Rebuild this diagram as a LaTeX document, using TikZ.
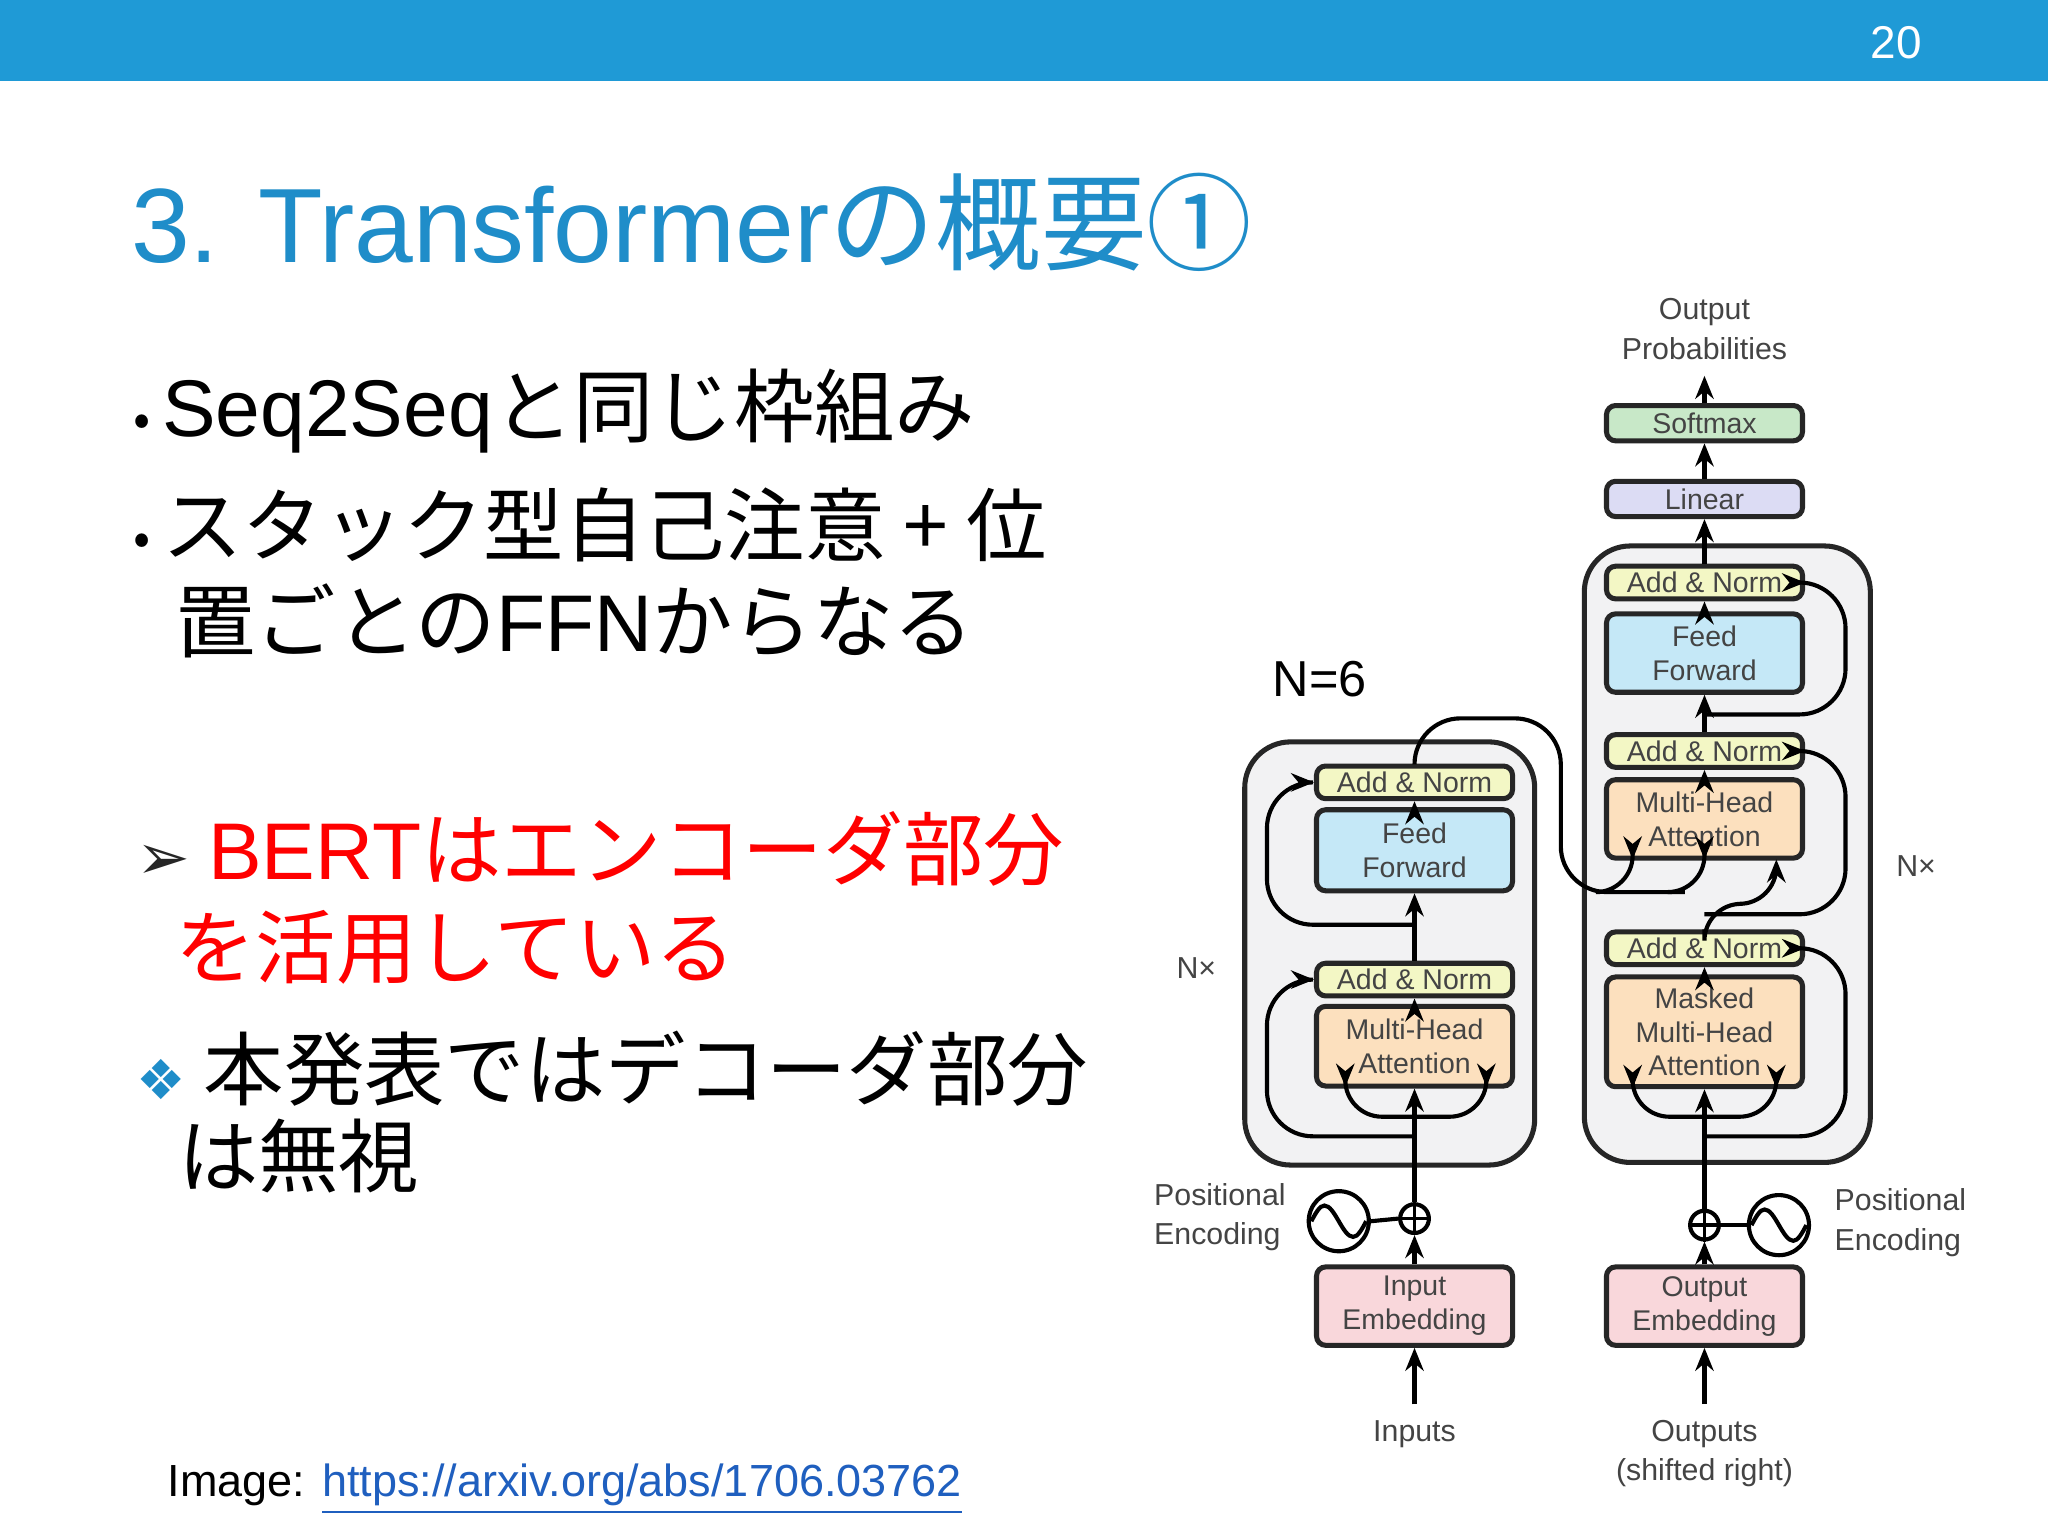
\documentclass[tikz,border=0pt]{standalone}
\usepackage{fontspec}
\setmainfont{Liberation Sans}
\newfontfamily\cjk{Noto Sans CJK JP}
\newfontfamily\dv{DejaVu Sans}
\usetikzlibrary{arrows.meta}
\definecolor{barblue}{HTML}{1F9AD6}
\definecolor{titleblue}{HTML}{1F8DC9}
\definecolor{txtg}{HTML}{444444}
\definecolor{cAN}{HTML}{F3F7C5}
\definecolor{cFF}{HTML}{C5E8F7}
\definecolor{cMH}{HTML}{FCE0BE}
\definecolor{cEM}{HTML}{F9D7DB}
\definecolor{cSM}{HTML}{C8E8C8}
\definecolor{cLN}{HTML}{DCDCF4}
\definecolor{cBG}{HTML}{F2F2F3}
\definecolor{linkblue}{HTML}{1F5FBF}
\tikzset{
 blk/.style={draw=black!85,line width=1.1pt,rounded corners=2pt,minimum width=1.5cm,align=center,
   font=\fontsize{6.2}{7.4}\selectfont,text=txtg,inner sep=1pt},
 an/.style={blk,fill=cAN,minimum height=0.25cm},
 big/.style={draw=black!85,line width=1.1pt,rounded corners=10pt,fill=cBG},
 lab/.style={font=\fontsize{6.6}{8.6}\selectfont,text=txtg,align=center},
 arr/.style={line width=0.9pt,-{Stealth[length=5pt,width=4pt]}},
 ln/.style={line width=0.9pt},
 jp/.style={font=\cjk\fontsize{17.5}{20}\selectfont,anchor=west},
}
\begin{document}
\begin{tikzpicture}[x=0.01cm,y=-0.01cm]
\useasboundingbox (0,0) rectangle (1568,1176);
\fill[white] (0,0) rectangle (1568,1176);
\fill[barblue] (0,0) rectangle (1568,62);
\node[text=white,font=\fontsize{10}{12}\selectfont] (pg) at (1452,33) {20};
\node[anchor=west,text=titleblue,font=\fontsize{23}{28}\selectfont] (title) at (88,170) {3. Transformer{\cjk の概要①}};
\node[jp] (b1) at (90,315) {\fontsize{11}{12}\selectfont•\ \fontsize{17.5}{20}\selectfont{\rmfamily Seq2Seq}と同じ枠組み};
\node[jp] (b2) at (90,402) {\fontsize{11}{12}\selectfont•\ \fontsize{17.5}{20}\selectfont スタック型自己注意 + 位};
\node[jp] (b3) at (122,475) {置ごとの{\rmfamily FFN}からなる};
\node[jp,text=red] (b4) at (92,650) {{\dv\fontsize{14}{16}\selectfont\textcolor{black!85}{➢}} {\rmfamily BERT}はエンコーダ部分};
\node[jp,text=red] (b5) at (122,725) {を活用している};
\node[jp] (b6) at (92,818) {{\dv\fontsize{12}{14}\selectfont\textcolor{titleblue}{❖}} 本発表ではデコーダ部分};
\node[jp] (b7) at (124,885) {は無視};
\node[anchor=west,font=\fontsize{9.8}{12}\selectfont] (img) at (116,1140) {Image: \textcolor{linkblue}{\underline{https://arxiv.org/abs/1706.03762}}};
\node[anchor=west,font=\fontsize{11}{12}\selectfont] (n6) at (962,520) {N=6};
% big boxes
\draw[big] (953,568) rectangle (1175,892);
\draw[big] (1213,418) rectangle (1432,890);
% encoder blocks
\node[an] (ean2) at (1083,599) {Add \& Norm};
\node[blk,fill=cFF,minimum height=0.62cm] (eff) at (1083,651) {Feed\\Forward};
\node[an] (ean1) at (1083,750) {Add \& Norm};
\node[blk,fill=cMH,minimum height=0.61cm] (emha) at (1083,801) {Multi-Head\\Attention};
\node[blk,fill=cEM,minimum height=0.6cm] (ie) at (1083,1000) {Input\\Embedding};
% decoder blocks
\node[an] (dan3) at (1305,446) {Add \& Norm};
\node[blk,fill=cFF,minimum height=0.6cm] (dff) at (1305,500) {Feed\\Forward};
\node[an] (dan2) at (1305,575) {Add \& Norm};
\node[blk,fill=cMH,minimum height=0.6cm] (dmha) at (1305,627) {Multi-Head\\Attention};
\node[an] (dan1) at (1305,726) {Add \& Norm};
\node[blk,fill=cMH,minimum height=0.84cm] (dmm) at (1305,790) {Masked\\Multi-Head\\Attention};
\node[blk,fill=cEM,minimum height=0.6cm] (oe) at (1305,1000) {Output\\Embedding};
\node[blk,fill=cLN,minimum height=0.27cm] (lin) at (1305,382) {Linear};
\node[blk,fill=cSM,minimum height=0.27cm] (soft) at (1305,324) {Softmax};
\node[lab] (outp) at (1305,252) {Output\\Probabilities};
\node[lab] (inp) at (1083,1098) {Inputs};
\node[lab] (outs) at (1305,1113) {Outputs\\(shifted right)};
\node[lab] (nxl) at (916,741) {N×};
\node[lab] (nxr) at (1467,663) {N×};
\node[lab,align=left] (pel) at (934,932) {Positional\\Encoding};
\node[lab,align=left] (per) at (1455,936) {Positional\\Encoding};
% plus and sine
\node[draw,circle,line width=0.9pt,minimum size=0.22cm,inner sep=0] (epl) at (1083,933) {};
\draw[line width=0.8pt] (epl.north)--(epl.south) (epl.west)--(epl.east);
\node[draw,circle,line width=0.9pt,minimum size=0.22cm,inner sep=0] (opl) at (1305,938) {};
\draw[line width=0.8pt] (opl.north)--(opl.south) (opl.west)--(opl.east);
\node[draw,circle,line width=0.9pt,minimum size=0.46cm,inner sep=0] (esin) at (1025,935) {};
\draw[line width=0.9pt] (1004,935) sin (1014,923) cos (1025,935) sin (1036,947) cos (1046,935);
\node[draw,circle,line width=0.9pt,minimum size=0.46cm,inner sep=0] (osin) at (1362,938) {};
\draw[line width=0.9pt] (1341,938) sin (1351,926) cos (1362,938) sin (1373,950) cos (1383,938);
\draw[ln] (esin.east)--(epl.west);
\draw[ln] (opl.east)--(osin.west);
% encoder connections
\draw[arr] (inp.north)--(ie.south);
\draw[arr] (ie.north)--(epl.south);
\draw[arr] (epl.north)--(emha.south);
\draw[arr,rounded corners=8] (1083,855) -| (1030,832);
\draw[arr,rounded corners=8] (1083,855) -| (1138,832);
\draw[arr,rounded corners=10] (1083,870) -| (970,750) -- (ean1.west);
\draw[arr] (emha.north)--(ean1.south);
\draw[arr] (ean1.north)--(eff.south);
\draw[arr] (eff.north)--(ean2.south);
\draw[arr,rounded corners=10] (1083,708) -| (970,599) -- (ean2.west);
\draw[ln,rounded corners=10] (ean2.north) -- (1083,550) -- (1195,550) -- (1195,683) -- (1290,683);
\draw[arr,rounded corners=8] (1225,683) -| (1250,658);
\draw[arr,rounded corners=8] (1280,683) -| (1305,658);
% decoder connections
\draw[arr] (outs.north)--(oe.south);
\draw[arr] (oe.north)--(opl.south);
\draw[arr] (opl.north)--(dmm.south);
\draw[arr,rounded corners=8] (1305,855) -| (1250,833);
\draw[arr,rounded corners=8] (1305,855) -| (1360,833);
\draw[arr,rounded corners=10] (1305,870) -| (1413,726) -- (dan1.east);
\draw[arr] (dmm.north)--(dan1.south);
\draw[arr,rounded corners=8] (dan1.north) -- (1305,692) -| (1360,658);
\draw[arr,rounded corners=10] (1305,700) -| (1413,575) -- (dan2.east);
\draw[arr] (dmha.north)--(dan2.south);
\draw[arr] (dan2.north)--(dff.south);
\draw[arr] (dff.north)--(dan3.south);
\draw[arr,rounded corners=10] (1305,547) -| (1413,446) -- (dan3.east);
\draw[arr] (dan3.north)--(lin.south);
\draw[arr] (lin.north)--(soft.south);
\draw[arr] (soft.north)--(outp.south);
\end{tikzpicture}
\end{document}
